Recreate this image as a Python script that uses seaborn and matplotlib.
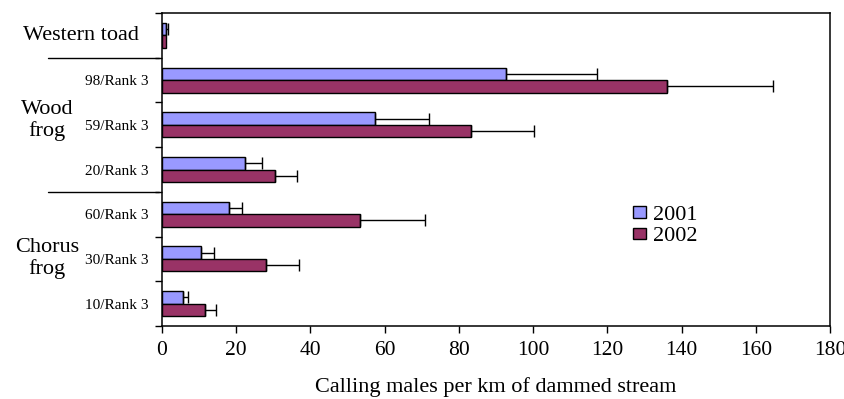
import numpy as np
import pandas as pd
import matplotlib
matplotlib.use("Agg")
import matplotlib.pyplot as plt
import matplotlib.transforms as mtransforms
import seaborn as sns

# dados (machos cantando por km de riacho represado)
categorias = ["Western toad", "98/Rank 3", "59/Rank 3", "20/Rank 3",
              "60/Rank 3", "30/Rank 3", "10/Rank 3"]
rotulos_y = ["", "98/Rank 3", "59/Rank 3", "20/Rank 3",
             "60/Rank 3", "30/Rank 3", "10/Rank 3"]
anos = ["2001", "2002"]
valores_2001 = [1.0, 92.6, 57.5, 22.3, 18.1, 10.4, 5.7]
valores_2002 = [1.0, 136.0, 83.2, 30.4, 53.4, 28.1, 11.6]
erro_2001 = [0.7, 24.7, 14.5, 4.6, 3.5, 3.6, 1.4]
erro_2002 = [np.nan, 28.7, 17.1, 5.9, 17.6, 8.8, 3.0]
cores = {"2001": "#9999FF", "2002": "#993366"}

df = pd.DataFrame({
    "categoria": categorias * 2,
    "valor": valores_2001 + valores_2002,
    "ano": [anos[0]] * len(categorias) + [anos[1]] * len(categorias),
})

sns.set_style("ticks")
plt.rcParams["font.family"] = ["Liberation Serif", "DejaVu Serif"]
plt.rcParams["text.color"] = "black"
plt.rcParams["xtick.color"] = "black"
plt.rcParams["ytick.color"] = "black"
plt.rcParams["axes.labelcolor"] = "black"

fig = plt.figure(figsize=(8.45, 3.99), dpi=100)
ax = fig.add_axes([162 / 845, 1 - 326 / 399, 668 / 845, 313 / 399])

sns.barplot(data=df, x="valor", y="categoria", hue="ano", orient="h",
            palette=cores, saturation=1, width=0.56, errorbar=None,
            edgecolor="black", linewidth=1.0, ax=ax)

# barras de erro (só o lado positivo)
for container, erros in zip(ax.containers, [erro_2001, erro_2002]):
    for p, e in zip(container.patches, erros):
        if np.isnan(e):
            continue
        yc = p.get_y() + p.get_height() / 2
        ax.errorbar(p.get_width(), yc, xerr=[[0], [e]], fmt="none",
                    ecolor="black", elinewidth=1.0, capsize=4, capthick=1.0)

ax.set_xlim(0, 180)
ax.set_xticks(np.arange(0, 181, 20))
ax.tick_params(axis="x", labelsize=15.5, length=5, width=1, direction="out", pad=6)
ax.set_xlabel("Calling males per km of dammed stream", fontsize=16, labelpad=12)
ax.set_ylabel("")

ax.set_yticks(np.arange(len(categorias)))
ax.set_yticklabels(rotulos_y, fontsize=11)
ax.tick_params(axis="y", which="major", length=0, pad=10)
ax.set_yticks(np.arange(-0.5, len(categorias), 1), minor=True)
ax.tick_params(axis="y", which="minor", length=5, width=1, direction="out")
ax.set_ylim(len(categorias) - 0.5, -0.5)

for s in ax.spines.values():
    s.set_visible(True)
    s.set_color("black")
    s.set_linewidth(1.1)

# rótulos dos grupos de espécies
trans = mtransforms.blended_transform_factory(ax.transAxes, ax.transData)
x0 = (48 - 162) / 668
for yb in [0.5, 3.5]:
    ax.plot([x0, -0.004], [yb, yb], color="black", lw=1.0,
            transform=trans, clip_on=False)
ax.text((81 - 162) / 668, 0, "Western toad", transform=trans,
        ha="center", va="center", fontsize=16)
ax.text((47 - 162) / 668, 1.9, "Wood\nfrog", transform=trans,
        ha="center", va="center", fontsize=16, linespacing=1.15)
ax.text((47 - 162) / 668, 5.0, "Chorus\nfrog", transform=trans,
        ha="center", va="center", fontsize=16, linespacing=1.15)

ax.legend(title=None, frameon=False, fontsize=16, loc="center left",
          bbox_to_anchor=((633 - 162) / 668, 1 - (226 - 13) / 313),
          borderaxespad=0, borderpad=0, handlelength=0.6, handleheight=0.4,
          handletextpad=0.3, labelspacing=0.1)

fig.savefig("out.png", dpi=100)
